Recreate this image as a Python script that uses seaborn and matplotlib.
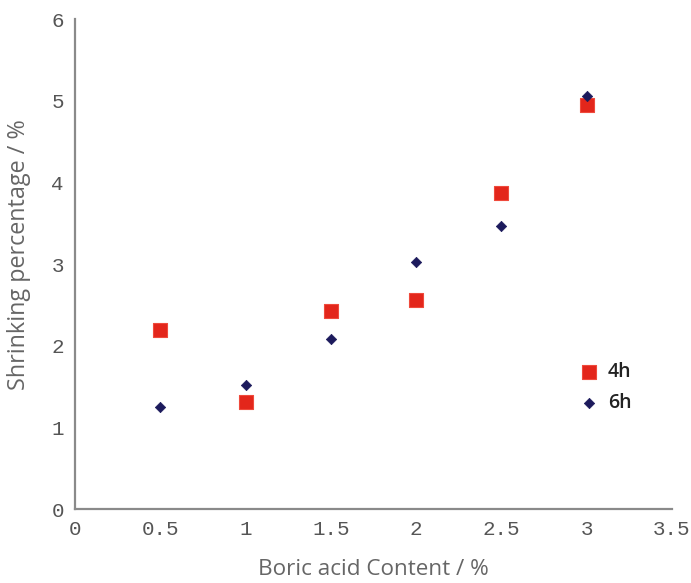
import matplotlib
matplotlib.use("Agg")
import matplotlib.pyplot as plt
import seaborn as sns
import pandas as pd

# Boric acid content (%) and shrinking percentage (%) after 4 h and 6 h
boric_acid = [0.5, 1.0, 1.5, 2.0, 2.5, 3.0]
shrink_4h = [2.19, 1.31, 2.42, 2.56, 3.87, 4.95]
shrink_6h = [1.25, 1.52, 2.08, 3.03, 3.47, 5.06]

x_ticks = [0, 0.5, 1, 1.5, 2, 2.5, 3, 3.5]
x_tick_labels = ["0", "0.5", "1", "1.5", "2", "2.5", "3", "3.5"]
y_ticks = [0, 1, 2, 3, 4, 5, 6]

df = pd.DataFrame({
    "Boric acid": boric_acid * 2,
    "Shrinking": shrink_4h + shrink_6h,
    "Time": ["4h"] * len(boric_acid) + ["6h"] * len(boric_acid),
})

sns.set_style("white")
plt.rcParams["font.family"] = ["Open Sans", "DejaVu Sans"]

fig = plt.figure(figsize=(6.91, 5.83), dpi=100)
ax = fig.add_axes([0.1085, 0.1269, 0.864, 0.8405])

sns.scatterplot(data=df[df["Time"] == "4h"], x="Boric acid", y="Shrinking",
                marker="s", s=110, color="#e3261b", edgecolor="#ef4a3c",
                linewidth=0.8, label="4h", ax=ax, zorder=3)
sns.scatterplot(data=df[df["Time"] == "6h"], x="Boric acid", y="Shrinking",
                marker="D", s=28, color="#1c1a5c", edgecolor="#1c1a5c",
                linewidth=0.5, label="6h", ax=ax, zorder=4)

ax.set_xlim(0, 3.5)
ax.set_ylim(0, 6)
ax.set_xticks(x_ticks)
ax.set_xticklabels(x_tick_labels)
ax.set_yticks(y_ticks)

for side in ("top", "right"):
    ax.spines[side].set_visible(False)
for side in ("left", "bottom"):
    ax.spines[side].set_color("#8a8a8a")
    ax.spines[side].set_linewidth(1.6)

ax.tick_params(axis="both", direction="in", length=5, width=1.0,
               color="#aaaaaa", labelsize=15, labelcolor="#555555", pad=8)
for lbl in ax.get_xticklabels() + ax.get_yticklabels():
    lbl.set_family(["Liberation Mono", "DejaVu Sans Mono"])

ax.set_xlabel("Boric acid Content / %", fontsize=16.2, color="#666666", labelpad=14)
ax.set_ylabel("Shrinking percentage / %", fontsize=16.8, color="#666666")
ax.yaxis.set_label_coords(-0.073, 0.52)

leg = ax.legend(loc="upper left", bbox_to_anchor=(0.816, 0.335), frameon=False,
                fontsize=14, handlelength=1.0, handletextpad=0.45,
                labelspacing=0.55, markerscale=1.0)
for t in leg.get_texts():
    t.set_color("#222222")
    t.set_fontweight("semibold")

fig.savefig("out.png", dpi=100, facecolor="white")
